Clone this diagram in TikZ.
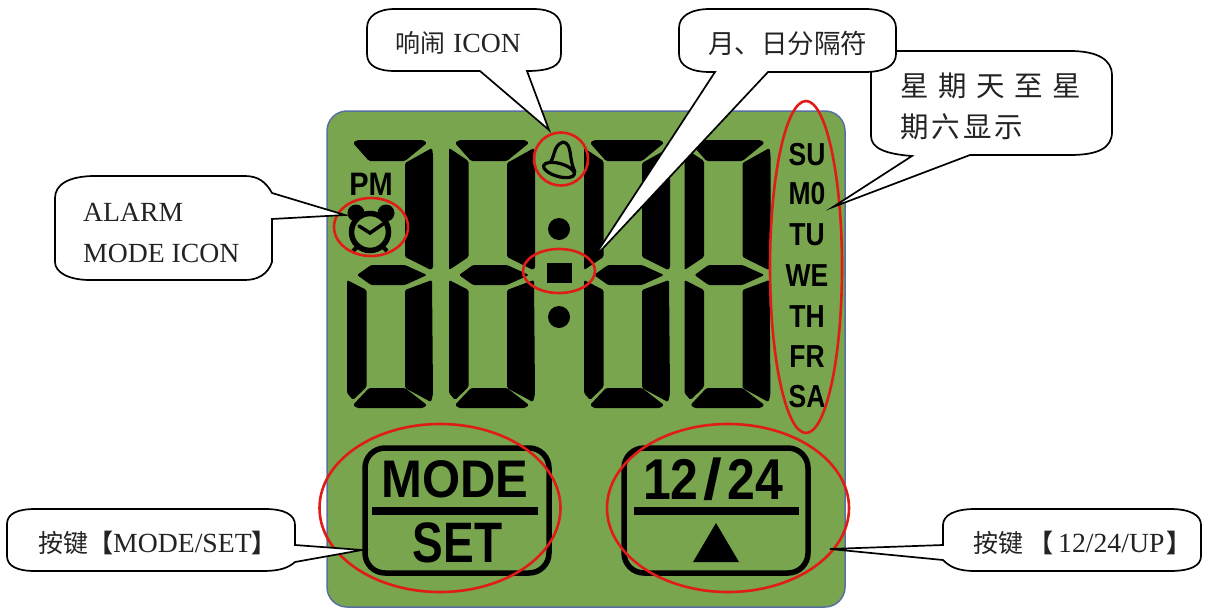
\documentclass[tikz,border=0pt]{standalone}
\usepackage{graphicx}
\usepackage{fontspec}
\setmainfont{Liberation Serif}
\setsansfont{Liberation Sans}
\newfontfamily\cjk{Noto Sans CJK SC}[Scale=1]
\definecolor{panelgreen}{RGB}{121,165,78}
\definecolor{panelblue}{RGB}{88,112,160}
\definecolor{ringred}{RGB}{224,28,24}
\definecolor{inktext}{RGB}{35,35,35}
\newcommand{\lcdcommon}{%
  \fill[seg] (353,143) -- (357,140) -- (423,140) -- (427,143) -- (405,161) -- (369,161) -- cycle;
  \fill[seg] (432,148) -- (433,155) -- (433,268) -- (431,270) -- (405,257) -- (405,163) -- cycle;
  \fill[seg] (357,275) -- (371,265) -- (405,265) -- (427,275) -- (405,285) -- (371,285) -- cycle;
  \fill[seg] (347,280) -- (366.5,290) -- (366.5,387) -- (353,400) -- (347,393) -- cycle;
  \fill[seg] (432,280) -- (433,394) -- (431,402) -- (405,388) -- (405,290) -- cycle;
  \fill[seg] (353,405) -- (369,388) -- (405,388) -- (427,405) -- (423,408) -- (357,408) -- cycle;
}
\newcommand{\lcdupperleft}{%
  \fill[seg] (347,148) -- (366.5,161) -- (366.5,257) -- (347,270) -- cycle;
}
\newcommand{\dayname}[3]{\node[daytext] (#1) at (807,#2) {\scalebox{1}[1.2]{#3}};}
\tikzset{
  seg/.style={black,rounded corners=1.5pt},
  ring/.style={draw=ringred,line width=2.6pt},
  balloon/.style={draw=black,fill=white,line width=1.7pt,line join=miter},
  daytext/.style={inner sep=0pt,font=\sffamily\bfseries\fontsize{26.5}{28}\selectfont},
  cjklabel/.style={inner sep=0pt,text=inktext,anchor=west,font=\fontsize{27.7}{30}\selectfont},
  btntext/.style={inner sep=0pt,font=\sffamily\bfseries},
  btnframe/.style={draw=black,line width=5.5pt,rounded corners=20pt},
  icon/.style={draw=black,line width=3.2pt,line join=round,line cap=round}
}
\begin{document}
\begin{tikzpicture}[x=1pt,y=-1pt]
\useasboundingbox (0,0) rectangle (1206,610);
\fill[white] (0,0) rectangle (1206,610);
% panel
\draw[draw=panelblue,fill=panelgreen,line width=1.5pt,rounded corners=20pt] (327,111) rectangle (845,607);
% digits
\begin{scope}\lcdcommon\end{scope}
\begin{scope}[shift={(102,0)}]\lcdcommon\lcdupperleft\end{scope}
\begin{scope}[shift={(237,0)}]\lcdcommon\lcdupperleft\end{scope}
\begin{scope}[shift={(337.5,0)}]\lcdcommon\lcdupperleft\end{scope}
% colon
\fill[black] (559,229) circle (11);
\fill[black] (559,317) circle (11);
\fill[black] (547,263) rectangle (572,283);
% PM
\node[inner sep=0pt,font=\sffamily\bfseries\fontsize{29}{30}\selectfont] (pm) at (371,184) {\scalebox{1}[1.12]{PM}};
% alarm clock
\fill[black] (356,213) circle (8.5);
\fill[black] (386,213) circle (8.5);
\draw[black,line width=5.5pt,fill=panelgreen] (370,232) circle (18.5);
\draw[black,line width=3.5pt,line cap=round,line join=miter] (359,226) -- (370,233) -- (383,224);
\draw[black,line width=4pt] (353,251) -- (357,247) (387,251) -- (383,247);
% bell
\draw[icon,fill=panelgreen] (548,165) .. controls (556,158) and (552,146) .. (563,142) .. controls (573,144) and (568,158) .. (575,172);
\draw[icon,fill=panelgreen,rotate around={-16:(559,170)}] (559,170) ellipse (16 and 6.5);
% days
\dayname{su}{155}{SU}
\dayname{mo}{194}{M0}
\dayname{tu}{235}{TU}
\dayname{we}{276}{WE}
\dayname{th}{317}{TH}
\dayname{fr}{357}{FR}
\dayname{sa}{397}{SA}
% buttons
\draw[btnframe] (365,448) rectangle (549,573);
\draw[black,line width=8pt] (372,511) -- (538,511);
\node[btntext] (mode) at (455,479) {\fontsize{49}{50}\selectfont\scalebox{1}[1.08]{MODE}};
\node[btntext] (set) at (457.5,542.5) {\fontsize{46}{48}\selectfont\scalebox{1}[1.24]{SET}};
\draw[btnframe] (624,448) rectangle (808,573);
\draw[black,line width=8pt] (634,511) -- (799,511);
\node[btntext] (tf) at (713,479) {\fontsize{50}{56}\selectfont\scalebox{1}[1.15]{12\hspace{5pt}\scalebox{1.35}[1]{/}\hspace{5pt}24}};
\fill[black] (716,523) -- (739,562) -- (693,562) -- cycle;
% rings
\draw[ring] (561,159) ellipse (27 and 26.5);
\draw[ring] (371,227) ellipse (37 and 29);
\draw[ring] (559,271) ellipse (36 and 22);
\draw[ring] (806,267) ellipse (36 and 166);
\draw[ring] (440,508) ellipse (120.5 and 84);
\draw[ring] (728,508) ellipse (121 and 84);
% balloons
\draw[balloon] (395,9) -- (533,9) .. controls (552,9) and (561,16) .. (561,28) -- (561,54) .. controls (561,66) and (550,71) .. (527,71) -- (549,130) -- (480,71) -- (395,71) .. controls (378,71) and (367,66) .. (367,54) -- (367,28) .. controls (367,16) and (378,9) .. (395,9) -- cycle;
\draw[balloon] (896,51) -- (1070,51) .. controls (1098,51) and (1112,60) .. (1112,75) -- (1112,132) .. controls (1112,148) and (1098,155) .. (1070,155) -- (970,155) -- (833,207) -- (912,156) .. controls (885,154) and (871,148) .. (871,136) -- (871,72) -- cycle;
\draw[balloon] (710,9) -- (865,9) .. controls (884,9) and (896,16) .. (896,28) -- (896,54) .. controls (896,66) and (884,72) .. (865,72) -- (768,72) -- (592,260) -- (715,72) -- (710,72) .. controls (691,72) and (679,66) .. (679,54) -- (679,28) .. controls (679,16) and (691,9) .. (710,9) -- cycle;
\draw[balloon] (95,176) -- (245,176) .. controls (258,176) and (266,182) .. (272,193) -- (345,215) -- (272,219) -- (272,262) .. controls (268,274) and (258,280) .. (245,280) -- (90,280) .. controls (68,280) and (55,272) .. (55,262) -- (55,198) .. controls (55,185) and (68,176) .. (95,176) -- cycle;
\draw[balloon] (35,509) -- (265,509) .. controls (285,509) and (295,515) .. (295,525) -- (295,545) -- (362,550) -- (295,562) .. controls (288,568) and (280,571) .. (262,571) -- (35,571) .. controls (17,571) and (7,566) .. (7,556) -- (7,524) .. controls (7,514) and (17,509) .. (35,509) -- cycle;
\draw[balloon] (975,509) -- (1170,509) .. controls (1190,509) and (1201,515) .. (1201,525) -- (1201,556) .. controls (1201,566) and (1190,571) .. (1170,571) -- (975,571) .. controls (958,571) and (950,567) .. (943,560) -- (830,549) -- (943,545) -- (943,525) .. controls (943,515) and (955,509) .. (975,509) -- cycle;
% labels
\node[cjklabel] (l1) at (395,43) {{\cjk\fontsize{25}{30}\selectfont 响闹}\hspace{1pt} ICON};
\node[cjklabel] (l2) at (708,43) {\cjk\fontsize{26.5}{30}\selectfont 月、日分隔符};
\node[cjklabel] (l3a) at (900,86) {\cjk\fontsize{28.5}{30}\selectfont 星\hspace{9.5pt}期\hspace{9.5pt}天\hspace{9.5pt}至\hspace{9.5pt}星};
\node[cjklabel] (l3b) at (900,127) {\cjk\fontsize{28.5}{30}\selectfont 期\hspace{3pt}六\hspace{3pt}显\hspace{3pt}示};
\node[cjklabel] (l4a) at (83,212) {ALARM};
\node[cjklabel] (l4b) at (83,253) {MODE ICON};
\node[cjklabel] (l5) at (38,543) {{\cjk\fontsize{25}{30}\selectfont 按键{\bfseries 【}}MODE/SET{\cjk\fontsize{25}{30}\selectfont\bfseries 】}};
\node[cjklabel] (l6) at (973,543) {{\cjk\fontsize{25}{30}\selectfont 按键\hspace{5pt}{\bfseries 【}}\hspace{5pt}12/24/UP\hspace{2pt}{\cjk\fontsize{25}{30}\selectfont\bfseries 】}};
\end{tikzpicture}
\end{document}
